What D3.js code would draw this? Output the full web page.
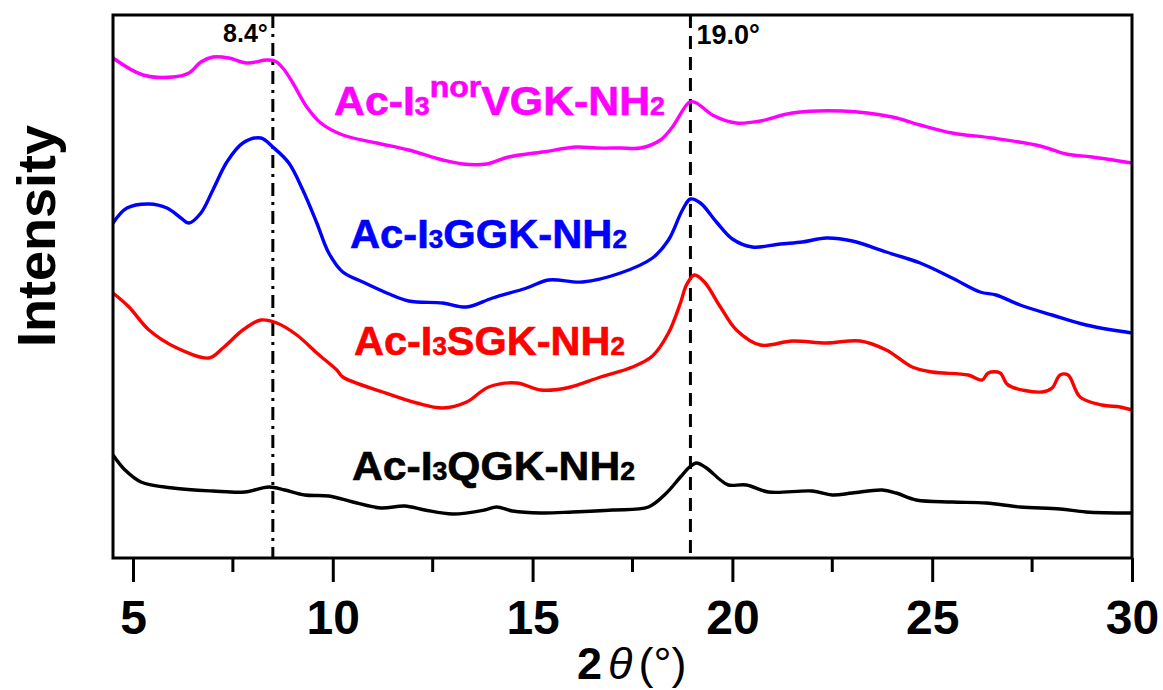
<!DOCTYPE html>
<html>
<head>
<meta charset="utf-8">
<script src="https://cdn.jsdelivr.net/npm/d3@7"></script>
<style>
  body { margin: 0; background: #fff; }
  svg { display: block; font-family: "Liberation Sans", Arial, sans-serif; }
</style>
</head>
<body>
<svg id="chart"></svg>
<script>
// XRD patterns, intensity in arbitrary units (curves are stacked with offsets)
const norvgkTheta = [4.5, 5.25, 6.0, 6.4, 6.7, 7.0, 7.4, 7.85, 8.35, 8.55, 8.75, 9.0, 9.35, 9.7, 10.25, 11.1, 11.9, 12.75, 13.25, 13.85, 14.4, 15.25, 16.1, 16.6, 17.2, 17.7, 18.2, 18.5, 18.93, 19.1, 19.5, 20.1, 20.7, 21.5, 22.75, 24.0, 24.7, 25.5, 26.5, 27.7, 28.35, 29.0, 30];
const norvgkInt   = [500, 483, 481, 485, 496, 501, 500, 495, 498, 497, 490, 475, 451, 435, 423, 415, 408, 398, 394, 394, 401, 406, 411, 410, 410, 410, 418, 431, 456, 455, 443, 435, 437, 445, 447, 441, 433, 425, 420, 412, 404, 401, 395];

const ggkTheta = [4.5, 4.85, 5.4, 5.85, 6.2, 6.4, 6.7, 7.0, 7.35, 7.75, 8.2, 8.5, 8.9, 9.25, 9.6, 9.9, 10.25, 10.75, 11.35, 11.9, 12.75, 13.35, 14.0, 14.85, 15.4, 16.25, 17.2, 18.0, 18.4, 18.75, 18.95, 19.2, 19.6, 20.0, 20.5, 21.2, 21.75, 22.35, 23.0, 23.85, 24.7, 25.5, 26.2, 26.6, 27.2, 28.0, 28.85, 30];
const ggkInt   = [335, 350, 354, 350, 340, 335, 345, 368, 396, 415, 420, 411, 395, 368, 335, 305, 286, 276, 265, 257, 255, 251, 260, 270, 278, 276, 285, 300, 318, 348, 359, 355, 336, 319, 311, 314, 316, 320, 317, 306, 295, 280, 266, 263, 253, 243, 233, 225];

const sgkTheta = [4.5, 4.9, 5.4, 6.1, 6.9, 7.25, 7.75, 8.2, 8.6, 9.1, 9.6, 10.1, 10.25, 11.25, 12.1, 12.75, 13.35, 13.9, 14.6, 15.2, 15.85, 16.7, 17.5, 18.0, 18.4, 18.7, 18.85, 19.05, 19.3, 19.7, 20.1, 20.7, 21.5, 22.35, 23.2, 23.85, 24.5, 25.0, 25.9, 26.25, 26.4, 26.7, 26.9, 27.75, 28.0, 28.2, 28.4, 28.7, 29.25, 29.7, 30];
const sgkInt   = [265, 251, 228, 210, 200, 210, 228, 238, 235, 223, 205, 188, 181, 166, 155, 150, 156, 171, 175, 168, 170, 181, 191, 202, 225, 255, 273, 283, 276, 251, 228, 213, 217, 215, 217, 208, 191, 186, 183, 178, 185, 185, 173, 166, 170, 183, 183, 161, 153, 151, 148];

const qgkTheta = [4.5, 4.8, 5.2, 6.0, 7.0, 7.8, 8.4, 8.8, 9.3, 9.9, 10.5, 11.2, 11.8, 12.3, 13.0, 13.8, 14.1, 14.5, 15.2, 16.0, 17.0, 17.9, 18.35, 18.7, 18.93, 19.1, 19.35, 19.7, 19.9, 20.35, 20.9, 22.0, 22.5, 23.0, 23.75, 24.1, 24.6, 25.5, 26.35, 27.2, 28.2, 28.85, 30];
const qgkInt   = [103, 88, 76, 70, 67, 66, 71, 68, 63, 62, 56, 50, 52, 48, 44, 48, 51, 47, 45, 46, 48, 51, 65, 81, 91, 95, 90, 78, 73, 73, 66, 67, 63, 65, 68, 65, 58, 56, 55, 51, 49, 46, 45];

const seriesNames = ["norvgk", "ggk", "sgk", "qgk"];
const seriesColors = ["#ff00ff", "#0000ff", "#ff0000", "#000000"];

const xTicks = [5, 10, 15, 20, 25, 30];
const xMinorTicks = [7.5, 12.5, 17.5, 22.5, 27.5];
const refLines = [{ x: 8.5, label: "8.4°", dash: "13,6,3,6" }, { x: 18.95, label: "19.0°", dash: "13,8" }];

const width = 1163, height = 690;
const margin = { left: 113, right: 31, top: 15, bottom: 132 };

const svg = d3.select("#chart").attr("width", width).attr("height", height);

const x = d3.scaleLinear().domain([4.5, 30]).range([margin.left, width - margin.right]);
const y = d3.scaleLinear().domain([0, 543]).range([height - margin.bottom, margin.top]);

const series = [
  { theta: norvgkTheta, vals: norvgkInt },
  { theta: ggkTheta, vals: ggkInt },
  { theta: sgkTheta, vals: sgkInt },
  { theta: qgkTheta, vals: qgkInt },
];

// reference lines
refLines.forEach(r => {
  svg.append("line")
    .attr("x1", x(r.x)).attr("x2", x(r.x))
    .attr("y1", y(543)).attr("y2", y(0))
    .attr("stroke", "#000").attr("stroke-width", 3)
    .attr("stroke-dasharray", r.dash);
})

svg.append("text").attr("x", x(8.5) - 5).attr("y", 42)
  .attr("text-anchor", "end").attr("font-size", 25).attr("font-weight", "bold")
  .text(refLines[0].label)
svg.append("text").attr("x", x(18.95) + 6).attr("y", 44)
  .attr("font-size", 27).attr("font-weight", "bold")
  .text(refLines[1].label)

// curves
const line = d3.line().curve(d3.curveCatmullRom.alpha(0.5)).x(d => x(d[0])).y(d => y(d[1]))
series.forEach((s, i) => {
  svg.append("path")
    .datum(s.theta.map((t, j) => [t, s.vals[j]]))
    .attr("class", "curve " + seriesNames[i])
    .attr("fill", "none")
    .attr("stroke", seriesColors[i])
    .attr("stroke-width", 3.4)
    .attr("stroke-linejoin", "round")
    .attr("d", line)
})

// frame
svg.append("rect")
  .attr("x", x(4.5)).attr("y", y(543))
  .attr("width", x(30) - x(4.5)).attr("height", y(0) - y(543))
  .attr("fill", "none").attr("stroke", "#000").attr("stroke-width", 3)

// x axis with outward ticks
const axisG = svg.append("g").attr("transform", `translate(0,${y(0)})`)
axisG.call(d3.axisBottom(x).tickValues(xTicks).tickSize(24).tickPadding(18).tickFormat(d3.format("d")))
axisG.selectAll(".domain").remove()
axisG.selectAll(".tick line").attr("stroke-width", 3)
axisG.selectAll(".tick text")
  .attr("font-size", 48).attr("font-weight", "bold")
  .attr("font-family", "'Liberation Sans', Arial, sans-serif").attr("fill", "#000")
axisG.selectAll(".minor").data(xMinorTicks).enter().append("line")
  .attr("x1", d => x(d)).attr("x2", d => x(d))
  .attr("y1", 0).attr("y2", 14)
  .attr("stroke", "#000").attr("stroke-width", 3)

// axis titles
const xt = svg.append("text").attr("x", 577).attr("y", 679).attr("font-size", 45)
xt.append("tspan").attr("font-weight", "bold").text("2")
xt.append("tspan").attr("font-style", "italic").attr("dx", 6).text("θ")
xt.append("tspan").attr("dx", 6).text("(°)")

svg.append("text")
  .attr("transform", "translate(55,236) rotate(-90)")
  .attr("text-anchor", "middle").attr("font-size", 54).attr("font-weight", "bold")
  .text("Intensity")

// curve labels: [text parts], x start, x end, baseline
const labels = [
  { parts: [["Ac-I"], ["3", "sub"], ["nor", "sup"], ["VGK-NH"], ["2", "sub"]], x0: 334, x1: 665, yb: 115, color: seriesColors[0] },
  { parts: [["Ac-I"], ["3", "sub"], ["GGK-NH"], ["2", "sub"]], x0: 350, x1: 627, yb: 248, color: seriesColors[1] },
  { parts: [["Ac-I"], ["3", "sub"], ["SGK-NH"], ["2", "sub"]], x0: 354, x1: 625, yb: 355, color: seriesColors[2] },
  { parts: [["Ac-I"], ["3", "sub"], ["QGK-NH"], ["2", "sub"]], x0: 352, x1: 635, yb: 480, color: seriesColors[3] },
];

labels.forEach(l => {
  const g = svg.append("g")
  const t = g.append("text").attr("x", 0).attr("y", 0)
    .attr("font-size", 40).attr("font-weight", "bold").attr("fill", l.color)
    .attr("stroke", l.color).attr("stroke-width", 0.6)
  let shifted = 0
  l.parts.forEach(p => {
    const ts = t.append("tspan").text(p[0])
    if (p[1] === "sub") ts.attr("font-size", 25)
    if (p[1] === "sup") { ts.attr("font-size", 30).attr("dy", -18); shifted = 18 }
    else if (shifted) { ts.attr("dy", shifted); shifted = 0 }
  })
  const bb = t.node().getBBox()
  const sx = (l.x1 - l.x0) / bb.width
  g.attr("transform", `translate(${l.x0 - bb.x * sx},${l.yb}) scale(${sx},1)`)
})
</script>
</body>
</html>
